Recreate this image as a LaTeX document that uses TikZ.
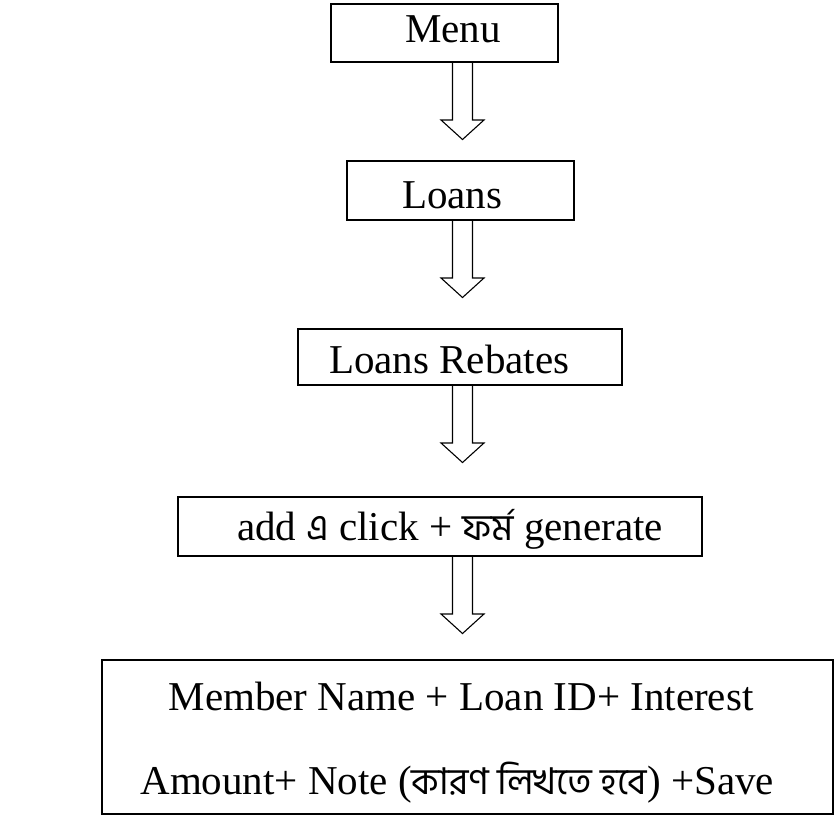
\documentclass[tikz,border=0pt]{standalone}
\usepackage{fontspec}
\setmainfont{Liberation Serif}
\newfontfamily\bn[Script=Bengali,Scale=0.9]{Hind Siliguri}
\usetikzlibrary{calc}
\tikzset{
  box/.style={draw, line width=1.6pt, rectangle, inner sep=0pt, outer sep=0pt},
  lbl/.style={inner sep=0pt, outer sep=0pt, font=\fontsize{41}{48}\selectfont},
  harrow/.style={draw, line width=1.1pt, line join=miter},
}
\newcommand\blockarrow[1]{%
  \draw[harrow] ($(ax |- #1.south)+(-10,0)$) -- ++(0,58) -- ++(-11.5,0)
    -- ++(21.5,19.5) -- ++(21.5,-19.5) -- ++(-11.5,0) -- ++(0,-58);}
\begin{document}
\begin{tikzpicture}[x=1pt,y=-1pt]
\useasboundingbox (0,0) rectangle (835,816);
\coordinate (ax) at (462.5,0);
% boxes
\node[box, minimum width=227pt, minimum height=58pt] (menu) at (444.5,33) {};
\node[box, minimum width=227pt, minimum height=59pt] (loans) at (460.5,190.5) {};
\node[box, minimum width=324pt, minimum height=56pt] (rebates) at (460,357) {};
\node[box, minimum width=524pt, minimum height=59pt] (add) at (440,526.5) {};
\node[box, minimum width=731pt, minimum height=154pt] (form) at (467.5,737) {};
% texts
\node[lbl, anchor=base west] (menut) at (405,43) {Menu};
\node[lbl, anchor=base west] (loanst) at (402,208) {Loans};
\node[lbl, anchor=base west] (rebatest) at (329,373) {Loans Rebates};
\node[lbl, anchor=base west] (addt) at (237,540) {add {\bn এ} click + {\bn ফর্ম} generate};
\node[lbl, anchor=base] (formt1) at (461,710) {Member Name + Loan ID+ Interest};
\node[lbl, anchor=base east] (formt2) at (774,794) {Amount+ Note ({\bn কারণ লিখতে হবে}) +Save};
% arrows
\blockarrow{menu}
\blockarrow{loans}
\blockarrow{rebates}
\blockarrow{add}
\end{tikzpicture}
\end{document}
